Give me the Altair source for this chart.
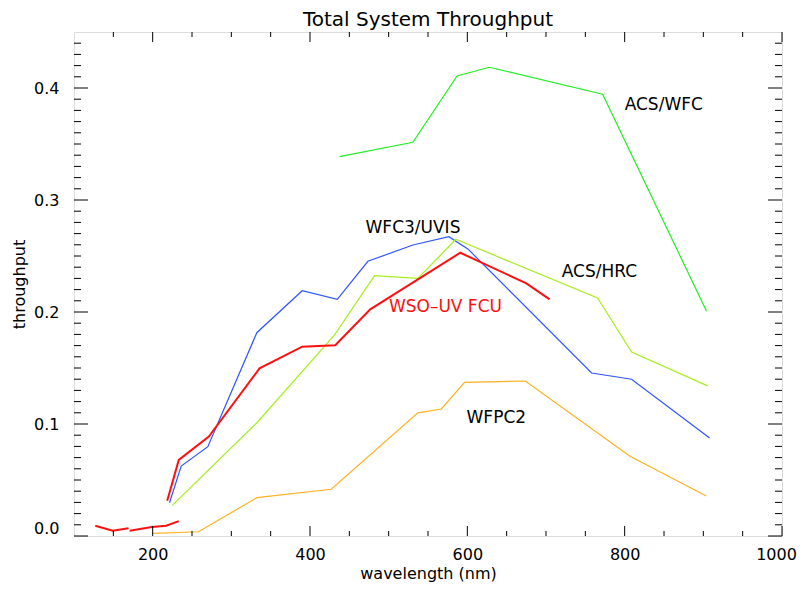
import altair as alt
import pandas as pd

# ---- data ----
acs_wfc_x = [437.6, 530.8, 587.0, 628.0, 772.0, 904.0]
acs_wfc_y = [0.3387, 0.3515, 0.4107, 0.4185, 0.3944, 0.2009]

wfc3_x = [221.4, 236.3, 270.1, 332.4, 390.1, 434.7, 473.6, 530.8, 576.5, 600.7, 758.0, 808.8, 908.0]
wfc3_y = [0.0297, 0.0625, 0.0797, 0.1815, 0.2190, 0.2113, 0.2453, 0.2598, 0.2672, 0.2563, 0.1455, 0.1400, 0.0875]

acs_hrc_x = [224.9, 333.7, 431.2, 482.1, 537.1, 585.4, 765.6, 808.8, 905.5]
acs_hrc_y = [0.0274, 0.1020, 0.1795, 0.2324, 0.2300, 0.2649, 0.2125, 0.1643, 0.1340]

wfpc2_x = [200.2, 258.3, 332.4, 427.0, 537.1, 566.9, 596.5, 673.7, 806.3, 903.8]
wfpc2_y = [0.0024, 0.0038, 0.0342, 0.0417, 0.1100, 0.1134, 0.1372, 0.1384, 0.0714, 0.0357]

wso_x = [218.5, 233.2, 271.4, 335.9, 390.1, 432.1, 476.6, 591.0, 675.0, 704.6]
wso_y = [0.0315, 0.0679, 0.0887, 0.1497, 0.1690, 0.1703, 0.2024, 0.2529, 0.2256, 0.2113]
wso_a_x = [127.0, 149.3, 169.3]
wso_a_y = [0.0092, 0.0047, 0.0069]
wso_b_x = [170.6, 198.9, 217.2, 233.2]
wso_b_y = [0.0047, 0.0080, 0.0092, 0.0133]

label_text = ["ACS/WFC", "WFC3/UVIS", "ACS/HRC", "WSO\u2013UV FCU", "WFPC2"]
label_x = [800, 470.6, 720, 500.3, 599]
label_y = [0.385, 0.275, 0.2357, 0.2047, 0.105]
label_color = ["black", "black", "black", "#ff1010", "black"]

x_major = [200, 400, 600, 800, 1000]
x_minor = [v for v in range(150, 1000, 50) if v % 200 != 0]
y_major = [0.0, 0.1, 0.2, 0.3, 0.4]
y_minor = [round(i * 0.01, 2) for i in range(1, 45) if i % 10 != 0]

W, H = 708, 504
FONT = "DejaVu Sans"

thin_series = [("ACS/WFC", acs_wfc_x, acs_wfc_y),
               ("WFC3/UVIS", wfc3_x, wfc3_y),
               ("ACS/HRC", acs_hrc_x, acs_hrc_y),
               ("WFPC2", wfpc2_x, wfpc2_y)]
thick_series = [("WSO", wso_x, wso_y), ("WSO a", wso_a_x, wso_a_y), ("WSO b", wso_b_x, wso_b_y)]

def frame(series):
    rows = []
    for name, xs, ys in series:
        for x, y in zip(xs, ys):
            rows.append({"series": name, "wl": x, "tp": y})
    return pd.DataFrame(rows)

xscale = alt.Scale(domain=[100, 1000], nice=False, zero=False)
yscale = alt.Scale(domain=[0, 0.45], nice=False, zero=False)

color_scale = alt.Scale(
    domain=["ACS/WFC", "WFC3/UVIS", "ACS/HRC", "WFPC2", "WSO", "WSO a", "WSO b"],
    range=["#22ee22", "#2f55ff", "#a6ee1e", "#ffb020", "#ff1010", "#ff1010", "#ff1010"],
)

xaxis = alt.Axis(values=x_major, format="d", ticks=False, domain=False, grid=False, labelFlush=False,
                 labelOffset={"condition": {"test": "datum.value == 1000", "value": -6}, "value": 0},
                 title="wavelength (nm)", labelFont=FONT, labelFontSize=16, labelColor="black",
                 titleFont=FONT, titleFontSize=16, titleFontWeight="normal", titleColor="black",
                 labelPadding=10, titlePadding=3)
yaxis = alt.Axis(values=y_major, format=".1f", ticks=False, domain=False, grid=False, labelFlush=True,
                 title="throughput", labelFont=FONT, labelFontSize=16, labelColor="black",
                 titleFont=FONT, titleFontSize=16, titleFontWeight="normal", titleColor="black",
                 labelPadding=15, titlePadding=6)

thin = alt.Chart(frame(thin_series)).mark_line(strokeWidth=1.2).encode(
    x=alt.X("wl:Q", scale=xscale, axis=xaxis),
    y=alt.Y("tp:Q", scale=yscale, axis=yaxis),
    color=alt.Color("series:N", scale=color_scale, legend=None),
)
thick = alt.Chart(frame(thick_series)).mark_line(strokeWidth=2).encode(
    x=alt.X("wl:Q", scale=xscale, axis=xaxis),
    y=alt.Y("tp:Q", scale=yscale, axis=yaxis),
    color=alt.Color("series:N", scale=color_scale, legend=None),
)

labels = alt.Chart(pd.DataFrame({"t": label_text, "x": label_x, "y": label_y, "c": label_color})).mark_text(
    align="left", baseline="middle", font=FONT, fontSize=17
).encode(
    x=alt.X("x:Q", scale=xscale, axis=xaxis),
    y=alt.Y("y:Q", scale=yscale, axis=yaxis),
    text="t:N",
    color=alt.Color("c:N", scale=None, legend=None),
)

def xticks(vals, length):
    df = pd.DataFrame({"v": vals})
    bottom = alt.Chart(df).mark_rule(color="black", strokeWidth=1).encode(
        x=alt.X("v:Q", scale=xscale, axis=xaxis), y=alt.value(H), y2=alt.value(H - length))
    top = alt.Chart(df).mark_rule(color="black", strokeWidth=1).encode(
        x=alt.X("v:Q", scale=xscale, axis=xaxis), y=alt.value(0), y2=alt.value(length))
    return [bottom, top]

def yticks(vals, length):
    df = pd.DataFrame({"v": vals})
    left = alt.Chart(df).mark_rule(color="black", strokeWidth=1).encode(
        y=alt.Y("v:Q", scale=yscale, axis=yaxis), x=alt.value(0), x2=alt.value(length))
    right = alt.Chart(df).mark_rule(color="black", strokeWidth=1).encode(
        y=alt.Y("v:Q", scale=yscale, axis=yaxis), x=alt.value(W), x2=alt.value(W - length))
    return [left, right]

layers = [thin, thick, labels] + xticks(x_major, 10) + xticks(x_minor, 5) + yticks(y_major, 14) + yticks(y_minor, 7)

chart = alt.layer(*layers).properties(
    width=W, height=H,
    title=alt.TitleParams("Total System Throughput", font=FONT, fontSize=20, fontWeight="normal",
                          color="black", offset=2),
    autosize=alt.AutoSizeParams(type="none"),
    padding={"left": 66, "top": 24, "right": 15, "bottom": 46},
).configure_view(stroke="black", strokeWidth=1.2).configure(background="white")

chart.save("out.html", embed_options={"renderer": "svg", "actions": False})
